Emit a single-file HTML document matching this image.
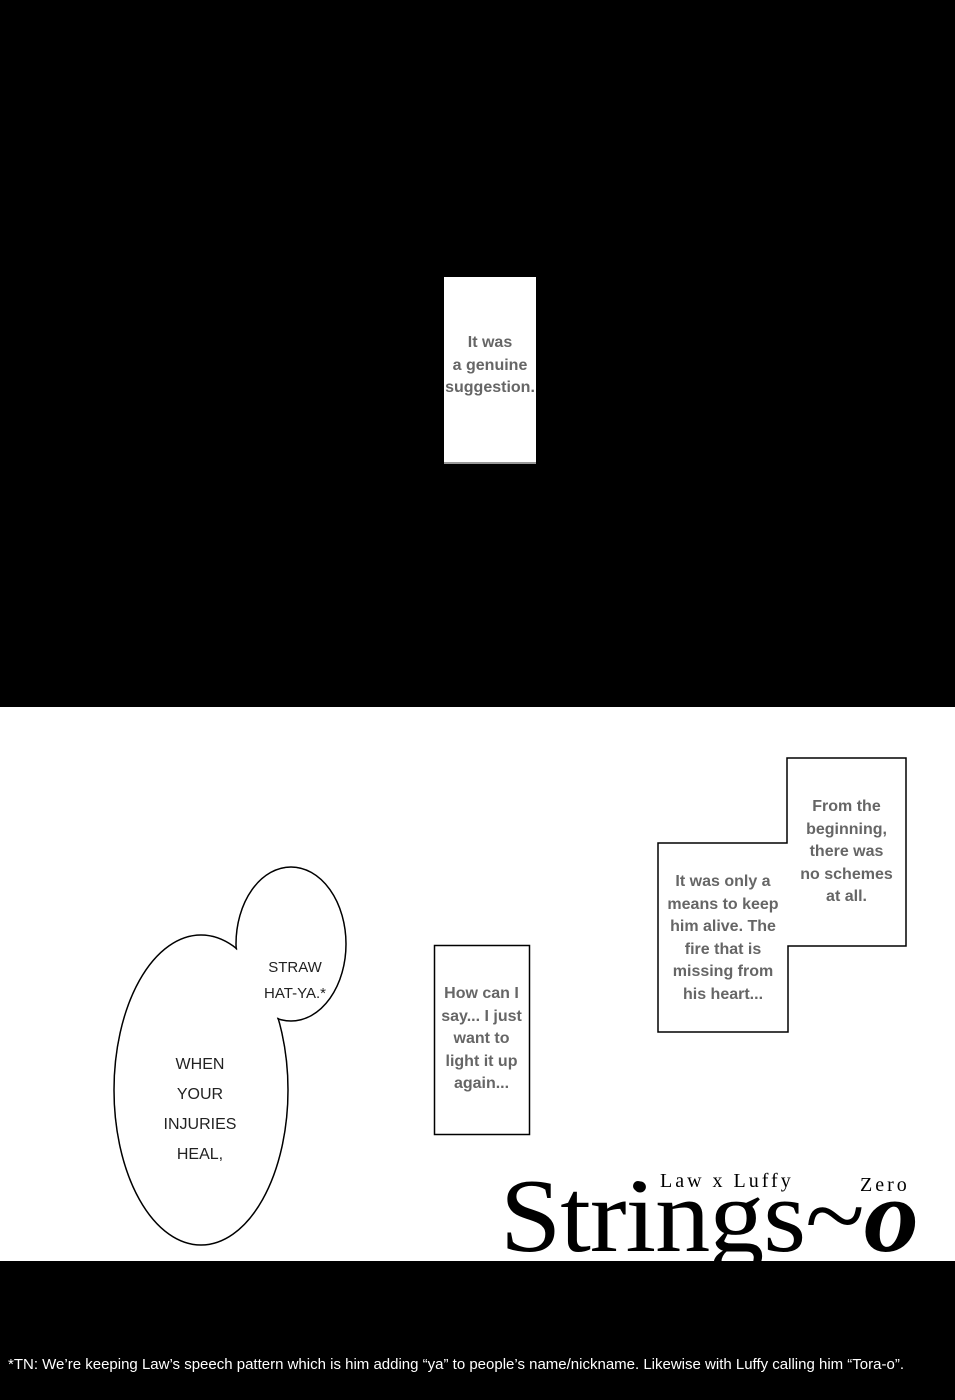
<!DOCTYPE html>
<html><head><style>
body{margin:0;width:955px;height:1400px;background:#fff;position:relative;overflow:hidden;font-family:"Liberation Sans",sans-serif}
.t{position:absolute;color:#666;font-weight:bold;text-align:center;font-size:16px;line-height:22.5px;font-family:"Liberation Sans Narrow","Liberation Sans",sans-serif}
.b{position:absolute;color:#222;text-align:center;font-size:16px;line-height:30px;font-family:"Liberation Sans",sans-serif}
</style></head><body>
<div style="position:absolute;left:0;top:0;width:955px;height:707px;background:#000"></div>
<div style="position:absolute;left:444px;top:277px;width:92px;height:185px;background:#fff;border-bottom:2px solid #999"></div>
<div class="t" style="left:444px;top:332px;width:92px">It was<br>a genuine<br>suggestion.</div>
<svg style="position:absolute;left:0;top:0" width="955" height="1400">
<ellipse cx="291" cy="944" rx="55" ry="77" fill="none" stroke="#000" stroke-width="1.5"/>
<ellipse cx="201" cy="1090" rx="87" ry="155" fill="none" stroke="#000" stroke-width="1.5"/>
<ellipse cx="291" cy="944" rx="54" ry="76" fill="#fff"/>
<ellipse cx="201" cy="1090" rx="86" ry="154" fill="#fff"/>
<rect x="434.5" y="945.5" width="95" height="189" fill="#fff" stroke="#000" stroke-width="1.5"/>
<polygon points="787,758 906,758 906,946 788,946 788,1032 658,1032 658,843 787,843" fill="#fff" stroke="#000" stroke-width="1.5"/>
</svg>
<div class="b" style="left:250px;top:955px;width:90px;line-height:26px;font-size:15px">STRAW<br>HAT-YA.*</div>
<div class="b" style="left:140px;top:1050px;width:120px">WHEN<br>YOUR<br>INJURIES<br>HEAL,</div>
<div class="t" style="left:434px;top:983px;width:95px">How can I<br>say... I just<br>want to<br>light it up<br>again...</div>
<div class="t" style="left:658px;top:871px;width:130px">It was only a<br>means to keep<br>him alive. The<br>fire that is<br>missing from<br>his heart...</div>
<div class="t" style="left:787px;top:796px;width:119px">From the<br>beginning,<br>there was<br>no schemes<br>at all.</div>
<div style="position:absolute;left:500px;top:1163px;font-family:'Liberation Serif',serif;font-size:105px;line-height:105px;letter-spacing:-1px;white-space:nowrap;transform-origin:0 0;transform:scaleX(1.05)">Strings~<b><i>o</i></b></div>
<svg style="position:absolute;left:0;top:0" width="955" height="1400"><circle cx="638" cy="1186" r="5" fill="#000"/></svg>
<div style="position:absolute;left:660px;top:1170px;font-family:'Liberation Serif',serif;font-size:20px;letter-spacing:3px">Law x Luffy</div>
<div style="position:absolute;left:860px;top:1174px;font-family:'Liberation Serif',serif;font-size:20px;letter-spacing:3px">Zero</div>
<div style="position:absolute;left:0;top:1261px;width:955px;height:139px;background:#000"></div>
<div style="position:absolute;left:8px;top:1356px;color:#fff;font-family:'Liberation Sans',sans-serif;font-size:15px;white-space:nowrap">*TN: We’re keeping Law’s speech pattern which is him adding “ya” to people’s name/nickname. Likewise with Luffy calling him “Tora-o”.</div>
</body></html>
